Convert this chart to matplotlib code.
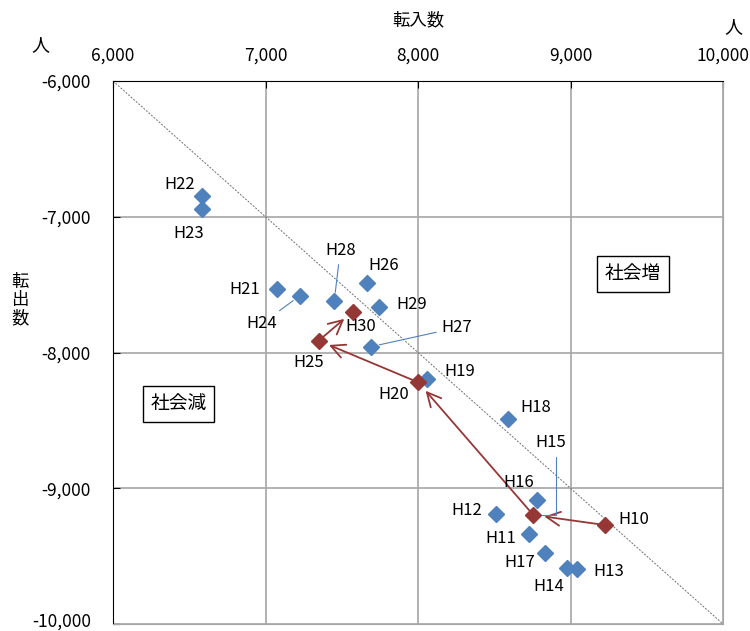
import matplotlib
matplotlib.use("Agg")
import matplotlib.pyplot as plt
import matplotlib.transforms as mtransforms
from matplotlib.ticker import FuncFormatter, MultipleLocator

plt.rcParams['font.family'] = ['Noto Sans CJK JP', 'DejaVu Sans']

# === data ====================================================================
years = ['H10', 'H11', 'H12', 'H13', 'H14', 'H15', 'H16', 'H17', 'H18', 'H19', 'H20',
         'H21', 'H22', 'H23', 'H24', 'H25', 'H26', 'H27', 'H28', 'H29', 'H30']
tennyu = [9226, 8730, 8511, 9041, 8979, 8756, 8780, 8835, 8588, 8057, 8002,
          7077, 6582, 6582, 7226, 7349, 7666, 7692, 7451, 7746, 7572]
tenshutsu = [-9271, -9337, -9190, -9595, -9585, -9197, -9087, -9475, -8492, -8198, -8220,
             -7532, -6847, -6943, -7581, -7913, -7490, -7957, -7618, -7665, -7699]
highlight = ['H10', 'H15', 'H20', 'H25', 'H30']

# label offsets in pixels (dx, dy) from the point
lbl_off = {'H10': (29, 6), 'H11': (-29, -5), 'H12': (-29, 4), 'H13': (32, -2),
           'H14': (-19, -19), 'H15': (17, 72), 'H16': (-18, 18), 'H17': (-26, -10),
           'H18': (28, 12), 'H19': (33, 8), 'H20': (-25, -12), 'H21': (-32, -1),
           'H22': (-22, 11), 'H23': (-13, -24), 'H24': (-38, -28), 'H25': (-10, -22),
           'H26': (17, 18), 'H27': (86, 19), 'H28': (6, 50), 'H29': (32, 3),
           'H30': (8, -15)}
leaders = ['H24', 'H27', 'H28']

blue = '#4F81BD'
red = '#953735'
grid_c = '#A6A6A6'

fig = plt.figure(figsize=(7.5, 6.31), dpi=100)
ax = fig.add_axes([113/750, 1-624/631, 610/750, 543/631])

ax.set_xlim(6000, 10000)
ax.set_ylim(-10000, -6000)
ax.xaxis.set_major_locator(MultipleLocator(1000))
ax.yaxis.set_major_locator(MultipleLocator(1000))
fmt = FuncFormatter(lambda v, p: f'{v:,.0f}')
ax.xaxis.set_major_formatter(fmt)
ax.yaxis.set_major_formatter(fmt)
ax.xaxis.tick_top()
ax.tick_params(axis='x', direction='in', length=5, pad=12, labelsize=12.5)
ax.tick_params(axis='y', direction='in', length=5, pad=16, labelsize=12.5)
ax.grid(True, color=grid_c, lw=1.2)
ax.set_axisbelow(True)
for s in ['top', 'left']:
    ax.spines[s].set_color('black')
for s in ['right', 'bottom']:
    ax.spines[s].set_color(grid_c)

# balance line (転入 = 転出)
ax.plot([6000, 10000], [-6000, -10000], color='#707070', lw=0.7, ls=(0, (2, 1.5)), zorder=1)

# arrows between every 5 years
hx = [tennyu[years.index(h)] for h in highlight]
hy = [tenshutsu[years.index(h)] for h in highlight]
for i in range(len(highlight) - 1):
    ax.annotate('', xy=(hx[i+1], hy[i+1]), xytext=(hx[i], hy[i]),
                arrowprops=dict(arrowstyle='->,head_length=1.0,head_width=0.5',
                                color=red, lw=1.3, shrinkA=3, shrinkB=8), zorder=2)

# points
for i, y in enumerate(years):
    c = red if y in highlight else blue
    ax.plot(tennyu[i], tenshutsu[i], marker='D', ms=8, color=c, mec=c, ls='none', zorder=3)

# labels
for i, y in enumerate(years):
    dx, dy = lbl_off[y]
    if y in leaders:
        ax.annotate(y, xy=(tennyu[i], tenshutsu[i]), xytext=(dx, dy), textcoords='offset pixels',
                    ha='center', va='center', fontsize=12,
                    arrowprops=dict(arrowstyle='-', color=blue, lw=0.8, shrinkA=2, shrinkB=6))
    elif y == 'H15':
        ax.annotate(y, xy=(tennyu[i], tenshutsu[i]), xytext=(dx, dy), textcoords='offset pixels',
                    ha='center', va='center', fontsize=12,
                    arrowprops=dict(arrowstyle='-', color=blue, lw=0.8, shrinkA=2, shrinkB=6,
                                    relpos=(0.7, 0), connectionstyle='angle,angleA=-90,angleB=0,rad=0'))
    else:
        ax.annotate(y, xy=(tennyu[i], tenshutsu[i]), xytext=(dx, dy), textcoords='offset pixels',
                    ha='center', va='center', fontsize=12)

# area boxes
box = dict(boxstyle='square,pad=0.4', fc='white', ec='black', lw=1)
ax.text(9410, -7420, '社会増', fontsize=13.5, ha='center', va='center', bbox=box)
ax.text(6430, -8380, '社会減', fontsize=13.5, ha='center', va='center', bbox=box)

# axis titles and units
fig.text(418/750, 1-20/631, '転入数', fontsize=12.5, ha='center', va='center')
fig.text(20/750, 1-300/631, '転\n出\n数', fontsize=12.5, ha='center', va='center', linespacing=1.0)
fig.text(40/750, 1-45/631, '人', fontsize=13, ha='center', va='center')
fig.text(733/750, 1-27/631, '人', fontsize=13, ha='center', va='center')

# nudge the bottom tick label up so it stays inside the picture
fig.canvas.draw()
for lab in ax.get_yticklabels():
    if lab.get_text() == '-10,000':
        lab.set_transform(lab.get_transform() +
                          mtransforms.ScaledTranslation(0, 4/100, fig.dpi_scale_trans))

plt.savefig('out.png', dpi=100)
